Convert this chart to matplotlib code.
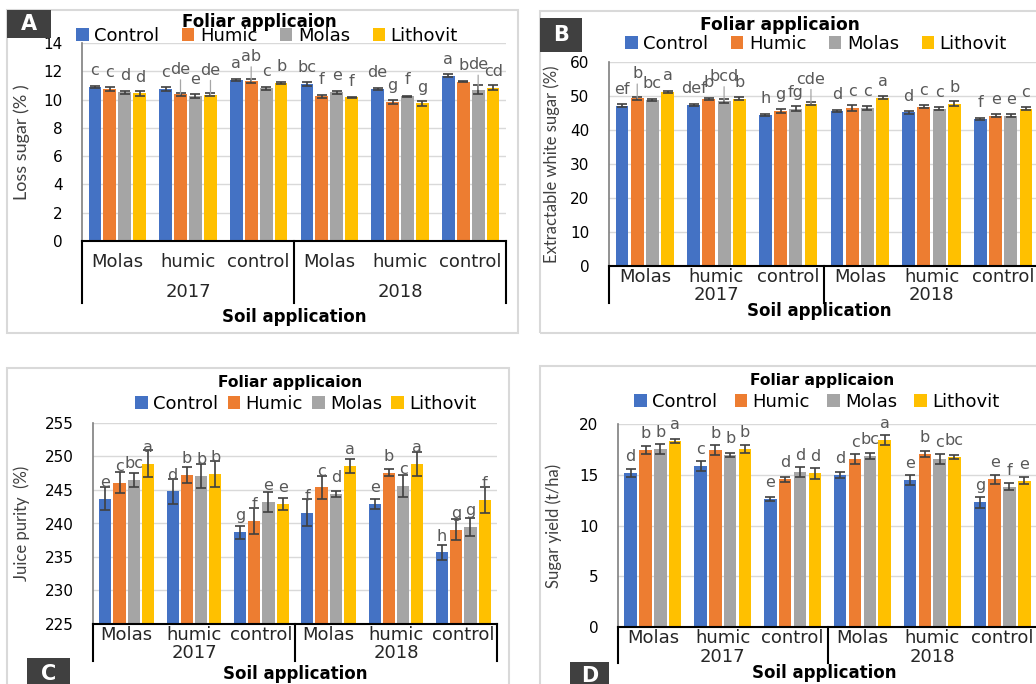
import matplotlib
matplotlib.use("Agg")
import matplotlib.pyplot as plt
import matplotlib.patches as mpatches
from matplotlib.transforms import blended_transform_factory
import numpy as np

# ---- data ----
soil = ["Molas", "humic", "control", "Molas", "humic", "control"]
years = ["2017", "2018"]
foliar = ["Control", "Humic", "Molas", "Lithovit"]
colors = ["#4472C4", "#ED7D31", "#A5A5A5", "#FFC000"]

# A: loss sugar (%)
loss_val = [[10.90, 10.76, 10.52, 10.43],
            [10.76, 10.38, 10.24, 10.34],
            [11.37, 11.30, 10.80, 11.18],
            [11.09, 10.24, 10.52, 10.15],
            [10.76, 9.82, 10.24, 9.73],
            [11.70, 11.25, 10.71, 10.85]]
loss_err = [[0.08, 0.12, 0.10, 0.15],
            [0.12, 0.10, 0.15, 0.10],
            [0.08, 0.15, 0.10, 0.08],
            [0.15, 0.10, 0.12, 0.05],
            [0.08, 0.15, 0.03, 0.15],
            [0.08, 0.04, 0.30, 0.20]]
loss_let = [["c", "c", "d", "d"],
            ["c", "de", "e", "de"],
            ["a", "ab", "c", "b"],
            ["bc", "f", "e", "f"],
            ["de", "g", "f", "g"],
            ["a", "b", "de", "cd"]]

# B: extractable white sugar (%)
ews_val = [[47.2, 49.3, 48.9, 51.2],
           [47.4, 49.1, 48.5, 49.2],
           [44.4, 45.6, 46.3, 47.7],
           [45.6, 46.5, 46.5, 49.5],
           [45.2, 46.9, 46.3, 47.7],
           [43.2, 44.2, 44.2, 46.3]]
ews_err = [[0.3, 0.5, 0.3, 0.4],
           [0.3, 0.3, 0.6, 0.4],
           [0.3, 0.5, 0.8, 0.4],
           [0.3, 0.8, 0.6, 0.4],
           [0.4, 0.5, 0.5, 0.7],
           [0.3, 0.5, 0.5, 0.4]]
ews_let = [["ef", "b", "bc", "a"],
           ["def", "b", "bcd", "b"],
           ["h", "g", "fg", "cde"],
           ["d", "c", "c", "a"],
           ["d", "c", "c", "b"],
           ["f", "e", "e", "c"]]

# C: juice purity (%)
jp_val = [[243.7, 246.1, 246.5, 248.9],
          [244.8, 247.3, 247.1, 247.4],
          [238.7, 240.4, 243.2, 242.9],
          [241.6, 245.4, 244.4, 248.6],
          [242.9, 247.6, 245.6, 248.9],
          [235.7, 239.1, 239.5, 243.5]]
jp_err = [[1.7, 1.6, 1.0, 2.0],
          [1.9, 1.2, 1.8, 1.9],
          [1.0, 1.9, 1.5, 0.9],
          [2.0, 1.7, 0.4, 1.1],
          [0.8, 0.5, 1.7, 1.8],
          [1.1, 1.5, 1.3, 1.9]]
jp_let = [["e", "c", "bc", "a"],
          ["d", "b", "b", "b"],
          ["g", "f", "e", "e"],
          ["f", "c", "d", "a"],
          ["e", "b", "c", "a"],
          ["h", "g", "g", "f"]]

# D: sugar yield (t/ha)
sy_val = [[15.15, 17.44, 17.54, 18.33],
          [15.87, 17.44, 16.95, 17.54],
          [12.59, 14.56, 15.25, 15.15],
          [14.98, 16.56, 16.85, 18.43],
          [14.49, 17.05, 16.56, 16.79],
          [12.30, 14.56, 13.84, 14.43]]
sy_err = [[0.40, 0.40, 0.45, 0.23],
          [0.50, 0.48, 0.16, 0.44],
          [0.20, 0.26, 0.48, 0.52],
          [0.30, 0.48, 0.26, 0.50],
          [0.52, 0.28, 0.49, 0.20],
          [0.54, 0.44, 0.33, 0.33]]
sy_let = [["d", "b", "b", "a"],
          ["c", "b", "b", "b"],
          ["e", "d", "d", "d"],
          ["d", "c", "bc", "a"],
          ["e", "b", "c", "bc"],
          ["g", "e", "f", "e"]]

W, H = 1036, 684
fig = plt.figure(figsize=(W / 100, H / 100), dpi=100)
fig.patch.set_facecolor("white")

WIDE = "DejaVu Sans"
NARROW = "Lato"


def panel(ax_px, border, tag_box, tag, vals, errs, lets, ylim, yticks, ylabel,
          ylabel_x, ylabel_size, title_xy, title_size, leg_xy, colsp, cat_y, year_y,
          box_bottom, xlabel_y, leaders=()):
    l, t, r, b = ax_px
    # outer border
    bx0, by0, bx1, by1 = border
    fig.patches.append(mpatches.Rectangle((bx0 / W, 1 - by1 / H), (bx1 - bx0) / W, (by1 - by0) / H,
                                          transform=fig.transFigure, fill=False,
                                          edgecolor="#d9d9d9", lw=1.5, zorder=0))
    ax = fig.add_axes([l / W, 1 - b / H, (r - l) / W, (b - t) / H])
    n = len(vals)
    x = np.arange(n)
    step = 0.212
    v = np.array(vals)
    e = np.array(errs)
    bars = []
    for j in range(4):
        xs = x + (j - 1.5) * step
        bb = ax.bar(xs, v[:, j], width=0.18, color=colors[j], zorder=2, label=foliar[j])
        ax.errorbar(xs, v[:, j], yerr=e[:, j], fmt="none", ecolor="#404040",
                    elinewidth=1.2, capsize=3.5, capthick=1.2, zorder=3)
        bars.append(bb)
        for i in range(n):
            lift = 6 if (i, j) in leaders else 0
            kw = {}
            if (i, j) in leaders:
                kw["arrowprops"] = dict(arrowstyle="-", color="#a6a6a6", lw=0.9,
                                        shrinkA=0, shrinkB=0)
            ax.annotate(lets[i][j], (xs[i], v[i, j]), xytext=(0, 8.5 + lift),
                        textcoords="offset points", ha="center", va="baseline",
                        color="#595959", fontsize=11.5, family=WIDE, zorder=4, **kw)
    ax.set_xlim(-0.5, n - 0.5)
    ax.set_ylim(*ylim)
    ax.set_yticks(yticks)
    ax.set_xticks([])
    ax.tick_params(axis="y", length=0, pad=14, labelsize=11)
    for lab in ax.get_yticklabels():
        lab.set_family(WIDE)
    ax.grid(axis="y", color="#d9d9d9", lw=1, zorder=0)
    ax.set_axisbelow(True)
    for s in ["top", "right"]:
        ax.spines[s].set_visible(False)
    ax.spines["left"].set_color("#7f7f7f")
    ax.spines["left"].set_linewidth(1.2)
    ax.spines["bottom"].set_color("black")
    ax.spines["bottom"].set_linewidth(1.5)
    ax.set_ylabel(ylabel, family=NARROW, fontsize=ylabel_size, color="#404040")
    ax.yaxis.set_label_coords((ylabel_x - l) / (r - l), 0.5)

    # multi-level category axis
    def ay(ypx):
        return (b - ypx) / (b - t)
    tr = blended_transform_factory(ax.transData, ax.transAxes)
    for xv in [-0.5, 2.5, 5.5]:
        ax.plot([xv, xv], [0, ay(box_bottom)], color="black", lw=1.5,
                transform=tr, clip_on=False)
    for i, name in enumerate(soil):
        ax.text(i, ay(cat_y), name, transform=tr, ha="center", va="center",
                fontsize=13, family=WIDE, color="#262626")
    for k, yr in enumerate(years):
        ax.text(1 + 3 * k, ay(year_y), yr, transform=tr, ha="center", va="center",
                fontsize=13, family=WIDE, color="#262626")
    fig.text(((l + r) / 2) / W if r < W else ((l + 1030) / 2) / W, 1 - xlabel_y / H,
             "Soil application", ha="center", va="center", fontsize=12,
             fontweight="bold", family=WIDE, color="black")

    # legend + title
    fig.text(title_xy[0] / W, 1 - title_xy[1] / H, "Foliar applicaion", ha="center",
             va="center", fontsize=title_size, fontweight="bold", family=WIDE)
    ax.legend(handles=bars, loc="center", bbox_to_anchor=(leg_xy[0] / W, 1 - leg_xy[1] / H),
              bbox_transform=fig.transFigure, ncol=4, frameon=False,
              prop={"family": WIDE, "size": 13}, handlelength=0.7, handleheight=0.7,
              handletextpad=0.3, columnspacing=colsp, borderpad=0, borderaxespad=0)

    # panel tag
    tx0, ty0, tx1, ty1 = tag_box
    fig.patches.append(mpatches.Rectangle((tx0 / W, 1 - ty1 / H), (tx1 - tx0) / W, (ty1 - ty0) / H,
                                          transform=fig.transFigure, facecolor="#404040",
                                          edgecolor="none", zorder=5))
    fig.text((tx0 + tx1) / 2 / W, 1 - (ty0 + ty1) / 2 / H, tag, ha="center", va="center",
             color="white", fontsize=15, fontweight="bold", family=WIDE, zorder=6)
    return ax


panel((82, 43, 506, 241), (7, 10, 518, 333), (7, 10, 51, 38), "A",
      loss_val, loss_err, loss_let, (0, 14), np.arange(0, 15, 2), "Loss sugar (% )",
      30, 13, (259, 22), 12, (267, 36), 1.25, 262, 292, 303, 317,
      leaders=[(1, 1), (1, 3), (2, 1), (5, 2)])

panel((609, 62, 1039, 266), (540, 11, 1045, 333), (540, 18, 582, 52), "B",
      ews_val, ews_err, ews_let, (0, 60), np.arange(0, 61, 10),
      "Extractable white sugar (%)", 560, 12, (780, 25), 12.3, (816, 44), 1.25,
      277, 295, 303, 311, leaders=[(0, 1), (1, 2), (2, 3)])

panel((93, 423, 497, 624), (7, 368, 509, 695), (27, 658, 70, 690), "C",
      jp_val, jp_err, jp_let, (225, 255), np.arange(225, 256, 5), "Juice purity  (%)",
      30, 12, (290, 383), 11.2, (306, 404), 0.5, 635, 653, 661, 674)

panel((618, 424, 1037, 627), (540, 366, 1045, 695), (570, 662, 609, 690), "D",
      sy_val, sy_err, sy_let, (0, 20), np.arange(0, 21, 5), "Sugar yield (t/ha)",
      562, 12, (822, 381), 11.2, (817, 402), 0.95, 638, 657, 663, 673)

fig.savefig("out.png", dpi=100, facecolor="white")
